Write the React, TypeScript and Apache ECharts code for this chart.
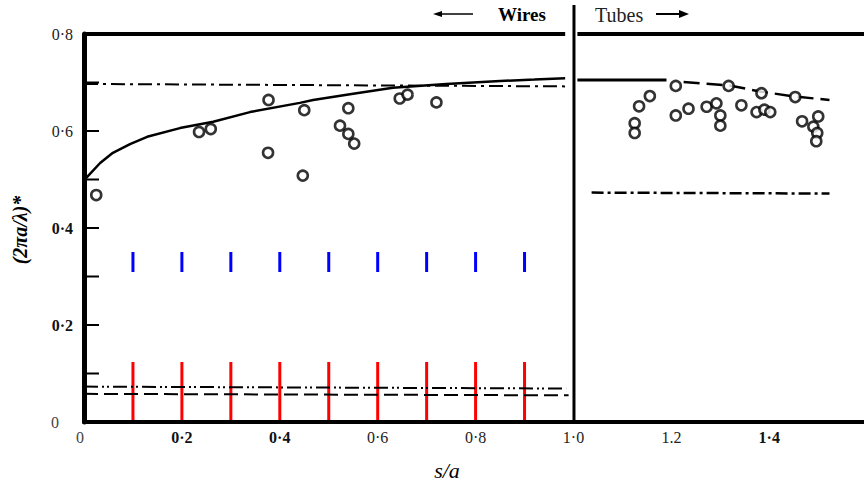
import React, { useEffect, useRef } from "react";
import * as echarts from "echarts";

// ---------- data ----------
const wiresS = [0.025, 0.235, 0.259, 0.377, 0.376, 0.45, 0.447, 0.54, 0.523, 0.54, 0.552, 0.645, 0.661, 0.72];
const wiresV = [0.468, 0.598, 0.604, 0.664, 0.555, 0.643, 0.508, 0.647, 0.611, 0.594, 0.574, 0.667, 0.675, 0.659];

const tubesS = [1.125, 1.125, 1.134, 1.156, 1.209, 1.209, 1.235, 1.272, 1.292, 1.3, 1.3, 1.317, 1.343, 1.374, 1.384, 1.39, 1.402, 1.453, 1.467, 1.49, 1.5, 1.498, 1.496];
const tubesV = [0.616, 0.596, 0.651, 0.672, 0.693, 0.632, 0.646, 0.65, 0.657, 0.632, 0.611, 0.693, 0.653, 0.639, 0.678, 0.644, 0.639, 0.67, 0.62, 0.609, 0.63, 0.596, 0.579];

const wireCurveS = [0, 0.006, 0.033, 0.059, 0.094, 0.129, 0.196, 0.264, 0.339, 0.441, 0.468, 0.55, 0.631, 0.74, 0.85, 0.92, 0.983];
const wireCurveV = [0.497, 0.505, 0.534, 0.555, 0.573, 0.588, 0.606, 0.619, 0.639, 0.658, 0.664, 0.677, 0.689, 0.697, 0.703, 0.706, 0.709];

const tubeSolidS = [1.008, 1.19];
const tubeSolidV = [0.705, 0.705];
const tubeDashS = [1.225, 1.317, 1.384, 1.453, 1.523];
const tubeDashV = [0.701, 0.694, 0.681, 0.671, 0.664];

const wireDashDotS = [0, 0.983];
const wireDashDotV = [0.697, 0.692];
const tubeDashDotS = [1.037, 1.523];
const tubeDashDotV = [0.473, 0.471];
const lowDotS = [0, 0.985];
const lowDotV = [0.073, 0.069];
const lowDashS = [0, 0.99];
const lowDashV = [0.058, 0.055];

const topLeftS = [0, 0.983];
const topRightS = [1.008, 1.6];
const topV = [0.8, 0.8];
const dividerS = [1.001, 1.001];
const dividerV = [0, 0.86];

const xMinorTicks = [0.1, 0.2, 0.3, 0.4, 0.5, 0.6, 0.7, 0.8, 0.9];
const yMinorTicks = [0.1, 0.2, 0.3, 0.4, 0.5, 0.6, 0.7];

const xTickValues = [0, 0.2, 0.4, 0.6, 0.8, 1.0, 1.2, 1.4];
const xTickLabels = ["0", "0·2", "0·4", "0·6", "0·8", "1·0", "1.2", "1·4"];
const yTickValues = [0, 0.2, 0.4, 0.6, 0.8];
const yTickLabels = ["0", "0·2", "0·4", "0·6", "0·8"];

const xTitle = "s/a";
const yTitle = "(2πa/λ)*";
const wiresLabel = "Wires";
const tubesLabel = "Tubes";

// ---------- helpers ----------
const zip = (a: number[], b: number[]) => a.map((v, i) => [v, b[i]]);
const findLabel = (vals: number[], labels: string[], v: number) => {
  const i = vals.findIndex((t) => Math.abs(t - v) < 1e-6);
  return i >= 0 ? labels[i] : "";
};

const SERIF = "'Liberation Serif', 'DejaVu Serif', serif";
const boldX = new Set(["0·2", "0·4", "1·4"]);
const boldY = new Set(["0·2", "0·4"]);

export default function App() {
  const ref = useRef<HTMLDivElement>(null);

  useEffect(() => {
    if (!ref.current) return;
    const chart = echarts.init(ref.current, null, { renderer: "svg" });

    const lineSeries = (data: number[][], width: number, dash: any, z = 3) => ({
      type: "line",
      data,
      symbol: "none",
      clip: false,
      silent: true,
      z,
      lineStyle: { color: "#000", width, type: dash },
    });

    // diagnostic: long red ticks from the x axis upward, blue ones in mid-plot
    const xTickSeries = {
      type: "custom",
      data: xMinorTicks.map((t) => [t, 0]),
      renderItem: (params: any, api: any) => {
        const p = api.coord([api.value(0), api.value(1)]);
        return {
          type: "group",
          children: [
            {
              type: "line",
              shape: { x1: p[0], y1: p[1] - 2, x2: p[0], y2: p[1] - 60 },
              style: { stroke: "red", lineWidth: 3 },
            },
            {
              type: "line",
              shape: { x1: p[0], y1: p[1] - 150, x2: p[0], y2: p[1] - 170 },
              style: { stroke: "blue", lineWidth: 3 },
            },
          ],
        };
      },
    };
    const yTickSeries = {
      type: "custom",
      data: yMinorTicks.map((t) => [0, t]),
      renderItem: (params: any, api: any) => {
        const p = api.coord([api.value(0), api.value(1)]);
        return {
          type: "line",
          shape: { x1: p[0] + 2, y1: p[1], x2: p[0] + 15, y2: p[1] },
          style: { stroke: "#000", lineWidth: 2 },
        };
      },
    };

    const graphics: any[] = [
      {
        type: "text",
        x: 20,
        y: 230,
        rotation: Math.PI / 2,
        style: {
          text: yTitle,
          fontFamily: SERIF,
          fontSize: 20,
          fontStyle: "italic",
          fontWeight: "bold",
          fill: "#000",
          align: "center",
          verticalAlign: "middle",
        },
      },
      {
        type: "text",
        x: 447,
        y: 470,
        style: {
          text: xTitle,
          fontFamily: SERIF,
          fontSize: 22,
          fontStyle: "italic",
          fill: "#000",
          align: "center",
          verticalAlign: "middle",
        },
      },
      { type: "line", shape: { x1: 440, y1: 14, x2: 473, y2: 14 }, style: { stroke: "#000", lineWidth: 1.5 } },
      { type: "polygon", shape: { points: [[433, 14], [442, 11], [442, 17]] }, style: { fill: "#000" } },
      {
        type: "text",
        x: 498,
        y: 14,
        style: {
          text: wiresLabel,
          fontFamily: SERIF,
          fontSize: 19,
          fontWeight: "bold",
          fill: "#000",
          align: "left",
          verticalAlign: "middle",
        },
      },
      {
        type: "text",
        x: 595,
        y: 15,
        style: {
          text: tubesLabel,
          fontFamily: SERIF,
          fontSize: 20,
          fill: "#222",
          align: "left",
          verticalAlign: "middle",
        },
      },
      { type: "line", shape: { x1: 656, y1: 14, x2: 681, y2: 14 }, style: { stroke: "#000", lineWidth: 2 } },
      { type: "polygon", shape: { points: [[689, 14], [679, 10], [679, 18]] }, style: { fill: "#000" } },
    ];

    const option: any = {
      animation: false,
      grid: { left: 84, top: 34, right: 0, bottom: 68, outerBoundsMode: "none" },
      xAxis: {
        type: "value",
        min: 0,
        max: 1.5935,
        splitLine: { show: false },
        axisTick: { show: false },
        axisLine: { show: true, lineStyle: { color: "#000", width: 4 } },
        axisLabel: {
          customValues: xTickValues,
          margin: 7,
          fontFamily: SERIF,
          fontSize: 16,
          color: "#111",
          formatter: (v: number) => {
            const s = findLabel(xTickValues, xTickLabels, v);
            if (!s) return "";
            if (s === "0") return "{z|0}";
            return boldX.has(s) ? `{b|${s}}` : `{r|${s}}`;
          },
          rich: {
            b: { fontFamily: SERIF, fontSize: 16, fontWeight: "bold", color: "#111" },
            r: { fontFamily: SERIF, fontSize: 16, color: "#222" },
            z: { fontFamily: SERIF, fontSize: 16, color: "#444", padding: [0, 8, 0, 0] },
          },
        },
      },
      yAxis: {
        type: "value",
        min: 0,
        max: 0.8,
        splitLine: { show: false },
        axisTick: { show: false },
        axisLine: { show: true, lineStyle: { color: "#000", width: 5 } },
        axisLabel: {
          customValues: yTickValues,
          margin: 11,
          fontFamily: SERIF,
          fontSize: 16,
          color: "#111",
          formatter: (v: number) => {
            const s = findLabel(yTickValues, yTickLabels, v);
            if (!s) return "";
            if (s === "0") return "{z|0}";
            return boldY.has(s) ? `{b|${s}}` : `{r|${s}}`;
          },
          rich: {
            b: { fontFamily: SERIF, fontSize: 16, fontWeight: "bold", color: "#111" },
            r: { fontFamily: SERIF, fontSize: 16, color: "#222" },
            z: { fontFamily: SERIF, fontSize: 16, color: "#444", padding: [0, 14, 0, 0] },
          },
        },
      },
      series: [
        xTickSeries,
        yTickSeries,
        lineSeries(zip(topLeftS, topV), 4, "solid", 5),
        lineSeries(zip(topRightS, topV), 4, "solid", 5),
        lineSeries(zip(dividerS, dividerV), 3, "solid", 5),
        lineSeries(zip(wireCurveS, wireCurveV), 2.5, "solid"),
        lineSeries(zip(tubeSolidS, tubeSolidV), 3, "solid"),
        lineSeries(zip(tubeDashS, tubeDashV), 2.5, [16, 7]),
        lineSeries(zip(wireDashDotS, wireDashDotV), 2, [14, 5, 3, 5]),
        lineSeries(zip(tubeDashDotS, tubeDashDotV), 2.5, [12, 4, 3, 4]),
        lineSeries(zip(lowDotS, lowDotV), 2, [14, 4, 2, 3, 2, 4]),
        lineSeries(zip(lowDashS, lowDashV), 2, [14, 6]),
        {
          type: "scatter",
          z: 6,
          symbol: "circle",
          symbolSize: 10,
          itemStyle: { color: "#fff", borderColor: "#000", borderWidth: 2.6 },
          data: zip(wiresS, wiresV),
        },
        {
          type: "scatter",
          z: 6,
          symbol: "circle",
          symbolSize: 10,
          itemStyle: { color: "#fff", borderColor: "#000", borderWidth: 2.6 },
          data: zip(tubesS, tubesV),
        },
      ],
      graphic: graphics,
    };

    chart.setOption(option);
    return () => chart.dispose();
  }, []);

  return (
    <div
      ref={ref}
      style={{ position: "fixed", left: 0, top: 0, width: 864, height: 490, background: "#fff" }}
    />
  );
}
